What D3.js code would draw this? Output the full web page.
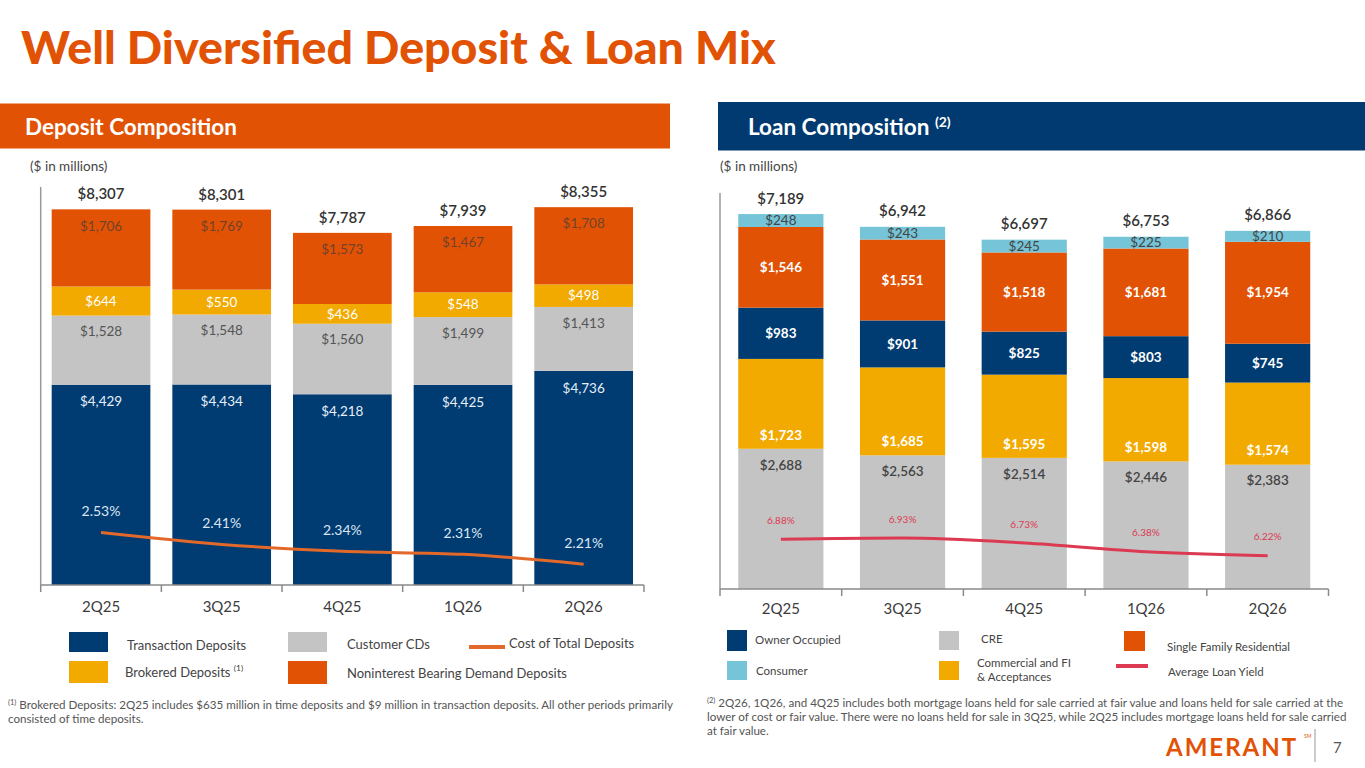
<!DOCTYPE html>
<html>
<head>
<meta charset="utf-8">
<script src="https://cdn.jsdelivr.net/npm/d3@7"></script>
<style>
  body { margin: 0; background: #fff; }
  svg { display: block; font-family: Lato, 'Open Sans', sans-serif; }
</style>
</head>
<body>
<div id="svg_chart"></div>
<script>
///////////// Data //////////////
var quarters = ['2Q25', '3Q25', '4Q25', '1Q26', '2Q26'];

// deposits ($ in millions)
var transaction_deposits = [4429, 4434, 4218, 4425, 4736];
var customer_cds = [1528, 1548, 1560, 1499, 1413];
var brokered_deposits = [644, 550, 436, 548, 498];
var noninterest_deposits = [1706, 1769, 1573, 1467, 1708];
var deposit_totals = [8307, 8301, 7787, 7939, 8355];
var cost_of_deposits = [2.53, 2.41, 2.34, 2.31, 2.21];

// loans ($ in millions)
var cre_loans = [2688, 2563, 2514, 2446, 2383];
var commercial_loans = [1723, 1685, 1595, 1598, 1574];
var owner_occupied_loans = [983, 901, 825, 803, 745];
var single_family_loans = [1546, 1551, 1518, 1681, 1954];
var consumer_loans = [248, 243, 245, 225, 210];
var loan_totals = [7189, 6942, 6697, 6753, 6866];
var loan_yield = [6.88, 6.93, 6.73, 6.38, 6.22];

///////////// Setup //////////////
const navy = '#003B71';
const orange = '#E15205';
const yellow = '#F2A900';
const grey = '#C4C4C4';
const light_blue = '#75C4D8';
const crimson = '#DB3A52';
const line_orange = '#E2692A';

var svg = d3.select('#svg_chart').append('svg')
  .attr('width', 1365)
  .attr('height', 768);

var fmt = d3.format(',');
var money = d => '$' + fmt(d);

// title
svg.append('text')
  .attr('x', 21)
  .attr('y', 64)
  .attr('fill', orange)
  .attr('font-size', 46.5)
  .attr('font-weight', 900)
  .text('Well Diversified Deposit & Loan Mix');

// section header bars
svg.append('rect').attr('x', 0).attr('y', 103.5).attr('width', 670).attr('height', 45).attr('fill', orange);
svg.append('rect').attr('x', 718).attr('y', 102).attr('width', 647).attr('height', 48.5).attr('fill', '#003A70');
svg.append('text')
  .attr('x', 25).attr('y', 135)
  .attr('fill', '#fff').attr('font-size', 22.5).attr('font-weight', 700)
  .text('Deposit Composition');
var loan_head = svg.append('text')
  .attr('x', 748).attr('y', 135)
  .attr('fill', '#fff').attr('font-size', 22.5).attr('font-weight', 700)
  .text('Loan Composition ');
loan_head.append('tspan').attr('font-size', 14).attr('dy', -8).text('(2)');

svg.append('text').attr('x', 30).attr('y', 171).attr('font-size', 13.5).attr('fill', '#444').text('($ in millions)');
svg.append('text').attr('x', 720).attr('y', 171).attr('font-size', 13.5).attr('fill', '#444').text('($ in millions)');

///////////// Stacked chart helper //////////////
function draw_stack(cfg) {
  var rows = quarters.map(function(q, i) {
    var r = { quarter: q };
    cfg.series.forEach(function(s) { r[s.key] = s.values[i]; });
    return r;
  });
  var stacked = d3.stack().keys(cfg.series.map(s => s.key))(rows);
  var x = cfg.x, y = cfg.y;

  var g = svg.append('g');
  stacked.forEach(function(layer, li) {
    var s = cfg.series[li];
    g.append('g').selectAll('rect').data(layer).enter().append('rect')
      .attr('x', d => x(d.data.quarter))
      .attr('y', d => y(d[1]))
      .attr('width', x.bandwidth())
      .attr('height', d => y(d[0]) - y(d[1]))
      .attr('fill', s.color);
  });
  // segment labels, drawn after all rects so they sit on top
  stacked.forEach(function(layer, li) {
    var s = cfg.series[li];
    g.append('g').selectAll('text').data(layer).enter().append('text')
      .attr('x', d => x(d.data.quarter) + x.bandwidth() / 2)
      .attr('y', function(d) {
        if (s.label_pos == 'top') return y(d[1]) + s.offset;
        if (s.label_pos == 'bottom') return y(d[0]) - s.offset;
        return (y(d[0]) + y(d[1])) / 2;
      })
      .attr('dy', '0.35em')
      .attr('text-anchor', 'middle')
      .attr('font-size', 13.5)
      .attr('font-weight', s.weight)
      .attr('fill', s.text_color)
      .attr('fill-opacity', s.opacity || 1)
      .text(d => money(d.data[s.key]));
  });

  // totals
  g.append('g').selectAll('text').data(cfg.totals).enter().append('text')
    .attr('x', (d, i) => x(quarters[i]) + x.bandwidth() / 2)
    .attr('y', (d, i) => y(d3.sum(cfg.series, s => s.values[i])) - cfg.total_gap)
    .attr('text-anchor', 'middle')
    .attr('font-size', 15)
    .attr('font-weight', 600)
    .attr('fill', '#333')
    .text(d => money(d));

  // axes
  var r = x.range();
  var base = y(0);
  svg.append('line')
    .attr('x1', r[0]).attr('x2', r[0])
    .attr('y1', cfg.axis_top).attr('y2', base)
    .attr('stroke', '#999').attr('stroke-width', 1.5);
  svg.append('line')
    .attr('x1', r[0]).attr('x2', r[1])
    .attr('y1', base).attr('y2', base)
    .attr('stroke', '#8a8a8a').attr('stroke-width', 1.5);
  svg.append('g').selectAll('line').data(d3.range(quarters.length + 1)).enter().append('line')
    .attr('x1', i => r[0] + i * x.step()).attr('x2', i => r[0] + i * x.step())
    .attr('y1', base).attr('y2', base + 7)
    .attr('stroke', '#8a8a8a').attr('stroke-width', 1.5);
  var x_axis = d3.axisBottom(x).tickSize(0).tickPadding(0);
  var ax = svg.append('g')
    .attr('transform', `translate(0,${cfg.label_y})`)
    .call(x_axis);
  ax.select('.domain').remove();
  ax.selectAll('text')
    .attr('dy', '0.35em')
    .attr('font-size', 15)
    .attr('font-weight', 400)
    .attr('font-family', 'Lato, sans-serif')
    .attr('fill', '#3c3c3c');

  // rate line
  var line = d3.line()
    .x((d, i) => x(quarters[i]) + x.bandwidth() / 2)
    .y(d => cfg.y_rate(d))
    .curve(d3.curveMonotoneX);
  svg.append('path')
    .datum(cfg.rates)
    .attr('d', line)
    .attr('fill', 'none')
    .attr('stroke', cfg.rate_color)
    .attr('stroke-width', 3);
  svg.append('g').selectAll('text').data(cfg.rates).enter().append('text')
    .attr('x', (d, i) => x(quarters[i]) + x.bandwidth() / 2)
    .attr('y', d => cfg.y_rate(d) - cfg.rate_gap)
    .attr('dy', '0.35em')
    .attr('text-anchor', 'middle')
    .attr('font-size', cfg.rate_size)
    .attr('fill', cfg.rate_text)
    .text(d => d.toFixed(2) + '%');
}

///////////// Deposit Composition //////////////
var x_dep = d3.scaleBand().domain(quarters).range([40.7, 644]).paddingInner(0.182).paddingOuter(0.091);
var y_dep = d3.scaleLinear().domain([0, 9000]).range([585, 178]);
var y_cost = d3.scaleLinear().domain([2, 3]).range([585, 486]);

draw_stack({
  x: x_dep, y: y_dep, totals: deposit_totals, total_gap: 10, axis_top: 187, label_y: 607,
  series: [
    { key: 'transaction', values: transaction_deposits, color: navy, label_pos: 'top', offset: 17, text_color: '#e6eef7', weight: 400 },
    { key: 'cds', values: customer_cds, color: grey, label_pos: 'top', offset: 16, text_color: '#555', weight: 400 },
    { key: 'brokered', values: brokered_deposits, color: yellow, label_pos: 'center', text_color: '#fff', weight: 400 },
    { key: 'noninterest', values: noninterest_deposits, color: orange, label_pos: 'top', offset: 16.5, text_color: '#3a3a3a', opacity: 0.7, weight: 400 }
  ],
  rates: cost_of_deposits, y_rate: y_cost, rate_color: line_orange, rate_gap: 21, rate_size: 14, rate_text: '#dbe6f2'
});

///////////// Loan Composition //////////////
var x_loan = d3.scaleBand().domain(quarters).range([720, 1328.5]).paddingInner(0.30).paddingOuter(0.15);
var y_loan = d3.scaleLinear().domain([0, 8000]).range([589, 171.7]);
var y_yield = d3.scaleLinear().domain([6, 7]).range([561.3, 536.3]);

draw_stack({
  x: x_loan, y: y_loan, totals: loan_totals, total_gap: 10.5, axis_top: 193, label_y: 609,
  series: [
    { key: 'cre', values: cre_loans, color: grey, label_pos: 'top', offset: 16, text_color: '#444', weight: 600 },
    { key: 'commercial', values: commercial_loans, color: yellow, label_pos: 'bottom', offset: 14, text_color: '#fff', weight: 700 },
    { key: 'owner', values: owner_occupied_loans, color: navy, label_pos: 'center', text_color: '#fff', weight: 700 },
    { key: 'sfr', values: single_family_loans, color: orange, label_pos: 'center', text_color: '#fff', weight: 700 },
    { key: 'consumer', values: consumer_loans, color: light_blue, label_pos: 'center', text_color: '#444', weight: 400 }
  ],
  rates: loan_yield, y_rate: y_yield, rate_color: crimson, rate_gap: 19, rate_size: 10, rate_text: crimson
});

///////////// Legends //////////////
var dep_legend = [
  { type: 'box', color: navy, x: 69, y: 632, w: 39, h: 20, label: 'Transaction Deposits', tx: 127, ty: 645 },
  { type: 'box', color: grey, x: 288, y: 632, w: 39, h: 20, label: 'Customer CDs', tx: 347, ty: 644 },
  { type: 'line', color: line_orange, x: 469, y: 647, w: 36, label: 'Cost of Total Deposits', tx: 509, ty: 643 },
  { type: 'box', color: yellow, x: 69, y: 661, w: 39, h: 22, label: 'Brokered Deposits ', sup: '(1)', tx: 125, ty: 672 },
  { type: 'box', color: orange, x: 288, y: 661, w: 39, h: 23, label: 'Noninterest Bearing Demand Deposits', tx: 347, ty: 673 }
];
var loan_legend = [
  { type: 'box', color: navy, x: 727, y: 630, w: 20, h: 21, label: 'Owner Occupied', tx: 755, ty: 640 },
  { type: 'box', color: grey, x: 939, y: 631, w: 20, h: 19, label: 'CRE', tx: 981, ty: 639 },
  { type: 'box', color: orange, x: 1124, y: 631, w: 21, h: 20, label: 'Single Family Residential', tx: 1167, ty: 647 },
  { type: 'box', color: light_blue, x: 727, y: 661, w: 20, h: 19, label: 'Consumer', tx: 756, ty: 671 },
  { type: 'box', color: yellow, x: 939, y: 661, w: 20, h: 19, label: 'Commercial and FI', label2: '& Acceptances', tx: 977, ty: 663 },
  { type: 'line', color: crimson, x: 1116, y: 666, w: 32, label: 'Average Loan Yield', tx: 1168, ty: 672 }
];

function draw_legend(items, size) {
  items.forEach(function(d) {
    if (d.type == 'box') {
      svg.append('rect').attr('x', d.x).attr('y', d.y).attr('width', d.w).attr('height', d.h).attr('fill', d.color);
    } else {
      svg.append('line').attr('x1', d.x).attr('x2', d.x + d.w).attr('y1', d.y).attr('y2', d.y)
        .attr('stroke', d.color).attr('stroke-width', 4);
    }
    var t = svg.append('text')
      .attr('x', d.tx).attr('y', d.ty).attr('dy', '0.35em')
      .attr('font-size', size).attr('fill', '#444')
      .text(d.label);
    if (d.sup) t.append('tspan').attr('font-size', size * 0.65).attr('dy', '-0.6em').text(d.sup);
    if (d.label2) {
      svg.append('text').attr('x', d.tx).attr('y', d.ty + 14).attr('dy', '0.35em')
        .attr('font-size', size).attr('fill', '#444').text(d.label2);
    }
  });
}
draw_legend(dep_legend, 13);
draw_legend(loan_legend, 11.5);

///////////// Footnotes //////////////
var note_size = 11.6;
var note_dep = svg.append('text').attr('x', 8).attr('y', 709).attr('font-size', note_size).attr('fill', '#555');
note_dep.append('tspan').attr('font-size', 7.5).attr('dy', -4).text('(1)');
note_dep.append('tspan').attr('dy', 4).text(' Brokered Deposits: 2Q25 includes $635 million in time deposits and $9 million in transaction deposits. All other periods primarily');
svg.append('text').attr('x', 8).attr('y', 723).attr('font-size', note_size).attr('fill', '#555').text('consisted of time deposits.');

var note_loan = svg.append('text').attr('x', 707).attr('y', 707).attr('font-size', note_size).attr('fill', '#555');
note_loan.append('tspan').attr('font-size', 7.5).attr('dy', -4).text('(2)');
note_loan.append('tspan').attr('dy', 4).text('  2Q26, 1Q26, and 4Q25 includes both mortgage loans held for sale carried at fair value and loans held for sale carried at the');
svg.append('text').attr('x', 707).attr('y', 721).attr('font-size', note_size).attr('fill', '#555')
  .text('lower of cost or fair value. There were no loans held for sale in 3Q25, while 2Q25 includes mortgage loans held for sale carried');
svg.append('text').attr('x', 707).attr('y', 735).attr('font-size', note_size).attr('fill', '#555').text('at fair value.');

///////////// Logo & page number //////////////
svg.append('text')
  .attr('x', 1166).attr('y', 756)
  .attr('font-size', 24).attr('font-weight', 700)
  .attr('letter-spacing', 2)
  .attr('fill', orange)
  .text('AMERANT');
svg.append('text').attr('x', 1304).attr('y', 738).attr('font-size', 5).attr('fill', orange).text('SM');
svg.append('line').attr('x1', 1315).attr('x2', 1315).attr('y1', 729).attr('y2', 762).attr('stroke', '#999').attr('stroke-width', 1);
svg.append('text').attr('x', 1333).attr('y', 753).attr('font-size', 15).attr('fill', '#555').text('7');
</script>
</body>
</html>
